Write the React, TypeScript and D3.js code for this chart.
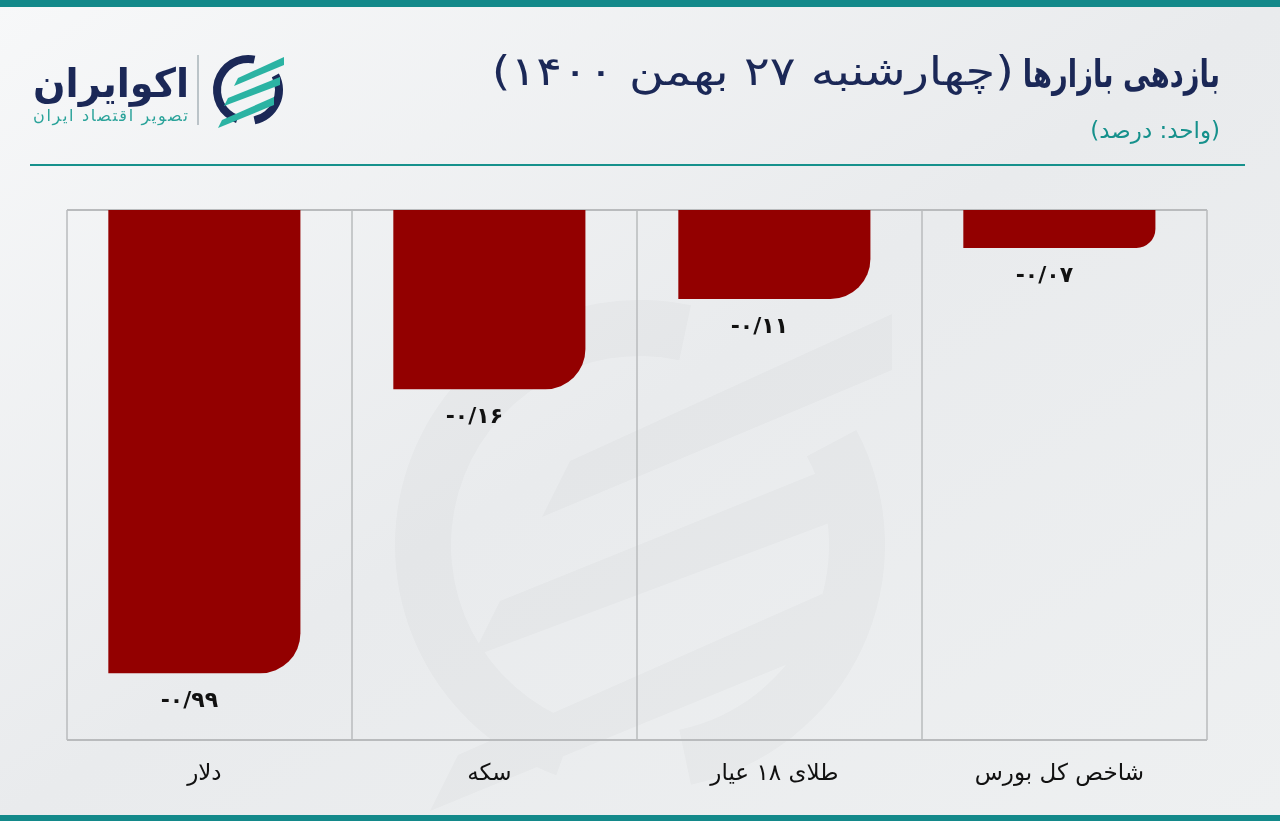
import React from "react";
import * as d3 from "d3";

const W = 1280;
const H = 821;

const categories = ["دلار", "سکه", "طلای ۱۸ عیار", "شاخص کل بورس"];
// bar lengths as drawn in the picture
const barValues = [-0.99, -0.383, -0.19, -0.081];
// value labels as printed on the picture
const valueLabels = ["-۰/۹۹", "-۰/۱۶", "-۰/۱۱", "-۰/۰۷"];

const titleBold = "بازدهی بازارها";
const titleRest = "(چهارشنبه ۲۷ بهمن ۱۴۰۰)";
const unitText = "(واحد: درصد)";
const brandName = "اکوایران";
const brandSub = "تصویر اقتصاد ایران";

const NAVY = "#1b2857";
const TEAL = "#16918c";
const BAR = "#930000";
const GRID = "#b9bbbd";
const FONT = "'DejaVu Sans', 'Noto Sans', sans-serif";

function barPath(x: number, y0: number, w: number, y1: number) {
  const h = y1 - y0;
  const r = Math.min(40, h / 2);
  return `M${x},${y0}H${x + w}V${y1 - r}A${r},${r} 0 0 1 ${x + w - r},${y1}H${x}Z`;
}

function LogoIcon({ cx, cy, s, navy, teal, opacity = 1 }: any) {
  const ro = 35 * s;
  const ri = 27 * s;
  const arc = d3.arc<any>().innerRadius(ri).outerRadius(ro);
  const a1 = arc({ startAngle: (200 * Math.PI) / 180, endAngle: (372 * Math.PI) / 180 }) as string;
  const a2 = arc({ startAngle: (62 * Math.PI) / 180, endAngle: (168 * Math.PI) / 180 }) as string;
  const stripe = (x1: number, y1: number, x2: number, y2: number, t: number) =>
    `M${cx + x1 * s},${cy + y1 * s}L${cx + x2 * s},${cy + y2 * s}L${cx + x2 * s},${cy + (y2 + t) * s}L${cx + x1 * s - 4 * s},${cy + (y1 + t) * s}Z`;
  return (
    <g opacity={opacity}>
      <path d={a1} transform={`translate(${cx},${cy})`} fill={navy} />
      <path d={a2} transform={`translate(${cx},${cy})`} fill={navy} />
      <path d={stripe(-10, -12, 36, -33, 8)} fill={teal} />
      <path d={stripe(-20, 8, 32, -13, 8)} fill={teal} />
      <path d={stripe(-26, 30, 26, 7, 8)} fill={teal} />
    </g>
  );
}

export default function App() {
  const plotLeft = 67;
  const plotRight = 1207;
  const plotTop = 210;
  const plotBottom = 740;

  const xBand = d3.scaleBand<string>().domain(categories).range([plotLeft, plotRight]).padding(0);
  const step = xBand.bandwidth();
  const barOffset = step * 0.145;
  const barW = step * 0.674;

  const y = d3.scaleLinear().domain([0, -1]).range([plotTop, 678]);

  const gridXs = [...categories.map((c) => xBand(c) as number), plotRight];

  return (
    <svg
      width={W}
      height={H}
      viewBox={`0 0 ${W} ${H}`}
      style={{ position: "absolute", left: 0, top: 0, display: "block" }}
      fontFamily={FONT}
    >
      <defs>
        <linearGradient id="bg" x1="0" y1="0" x2="1" y2="1">
          <stop offset="0" stopColor="#f7f8f9" />
          <stop offset="0.5" stopColor="#e9ebed" />
          <stop offset="1" stopColor="#eef0f1" />
        </linearGradient>
      </defs>
      <rect x={0} y={0} width={W} height={H} fill="url(#bg)" />

      {/* watermark */}
      <LogoIcon cx={640} cy={545} s={7} navy="#000" teal="#000" opacity={0.02} />

      {/* top/bottom bands */}
      <rect x={0} y={0} width={W} height={7} fill="#13898a" />
      <rect x={0} y={815} width={W} height={6} fill="#13898a" />

      {/* header logo */}
      <LogoIcon cx={248} cy={90} s={1} navy={NAVY} teal="#2bb3a3" />
      <line x1={198} x2={198} y1={55} y2={125} stroke="#a9b3b8" strokeWidth={1.5} />
      <text x={189} y={97} direction="rtl" textAnchor="start" fontSize={40} fontWeight="bold" fill={NAVY}
        textLength={156} lengthAdjust="spacingAndGlyphs">
        {brandName}
      </text>
      <text x={188} y={121} direction="rtl" textAnchor="start" fontSize={16} fill="#2aa39a"
        textLength={155} lengthAdjust="spacing">
        {brandSub}
      </text>

      {/* title */}
      <g transform="translate(1220,87) scale(0.72,1)">
        <text x={0} y={0} direction="rtl" textAnchor="start" fill={NAVY} fontSize={38} fontWeight="bold">
          {titleBold}
        </text>
      </g>
      <g transform="translate(1014,85) scale(1.2,1)">
        <text x={0} y={0} direction="rtl" textAnchor="start" fill={NAVY} fontSize={40}>
          {titleRest}
        </text>
      </g>
      <text x={1220} y={138} direction="rtl" textAnchor="start" fontSize={23} fill={TEAL}>
        {unitText}
      </text>
      <line x1={30} x2={1245} y1={165} y2={165} stroke={TEAL} strokeWidth={2} />

      {/* grid */}
      {gridXs.map((gx, i) => (
        <line key={"g" + i} x1={gx} x2={gx} y1={plotTop} y2={plotBottom} stroke={GRID} strokeWidth={1.5} />
      ))}
      <line x1={plotLeft} x2={plotRight} y1={plotTop} y2={plotTop} stroke={GRID} strokeWidth={2} />
      <line x1={plotLeft} x2={plotRight} y1={plotBottom} y2={plotBottom} stroke={GRID} strokeWidth={2} />

      {/* bars */}
      {categories.map((c, i) => {
        const bx = (xBand(c) as number) + barOffset;
        const y1 = y(barValues[i]);
        return <path key={"b" + i} d={barPath(bx, y(0), barW, y1)} fill={BAR} />;
      })}

      {/* value labels */}
      {categories.map((c, i) => {
        const cx = (xBand(c) as number) + barOffset + barW / 2 - 15;
        return (
          <text
            key={"v" + i}
            x={cx}
            y={y(barValues[i]) + 34}
            textAnchor="middle"
            direction="ltr"
            fontSize={22}
            fontWeight="bold"
            fill="#111"
          >
            {valueLabels[i]}
          </text>
        );
      })}

      {/* category labels */}
      {categories.map((c, i) => {
        const cx = (xBand(c) as number) + barOffset + barW / 2;
        return (
          <text key={"c" + i} x={cx} y={780} textAnchor="middle" direction="rtl" fontSize={23} fill="#111">
            {c}
          </text>
        );
      })}
    </svg>
  );
}
